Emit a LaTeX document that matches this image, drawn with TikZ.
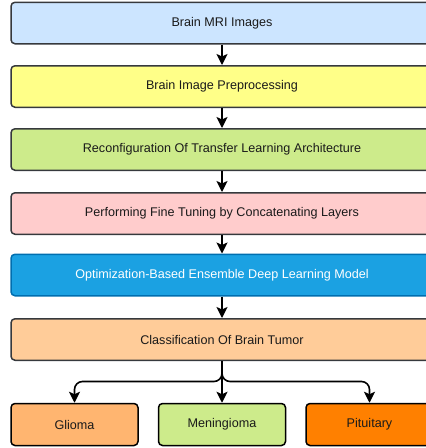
\documentclass[tikz,border=0pt]{standalone}
\usepackage{fontspec}
\setmainfont{Liberation Sans}
\usetikzlibrary{arrows.meta}
\definecolor{cblue}{HTML}{CCE5FF}
\definecolor{cyellow}{HTML}{FFFF88}
\definecolor{cgreen}{HTML}{CDEB8B}
\definecolor{cpink}{HTML}{FFCCCC}
\definecolor{cdblue}{HTML}{1BA1E2}
\definecolor{cdbluestroke}{HTML}{006EAF}
\definecolor{corange}{HTML}{FFCC99}
\definecolor{cglioma}{HTML}{FFB570}
\definecolor{cpit}{HTML}{FF8000}
\definecolor{cstroke}{HTML}{36393D}
\definecolor{ctext}{HTML}{1A1A1A}
\tikzset{
  wide/.style={draw=cstroke, line width=1.5pt, rounded corners=4pt, minimum width=422pt, minimum height=41.5pt, inner sep=0pt, text=ctext, font=\fontsize{12.6}{14}\selectfont},
  small/.style={draw=black, line width=1.5pt, rounded corners=4pt, minimum width=127pt, minimum height=42pt, inner sep=0pt, text=ctext, font=\fontsize{12.6}{14}\selectfont},
  arr/.style={line width=1.6pt, -{Stealth[length=11pt,width=11pt,inset=2.5pt]}},
}
\begin{document}
\begin{tikzpicture}[x=1pt,y=1pt]
\useasboundingbox (0,0) rectangle (426,-448);
\node[wide, fill=cblue] (b1) at (222,-23) {Brain MRI Images};
\node[wide, fill=cyellow] (b2) at (222,-86.5) {Brain Image Preprocessing};
\node[wide, fill=cgreen] (b3) at (222,-149.5) {Reconfiguration Of Transfer Learning Architecture};
\node[wide, fill=cpink] (b4) at (222,-213.5) {Performing Fine Tuning by Concatenating Layers};
\node[wide, fill=cdblue, draw=cdbluestroke, text=white] (b5) at (222,-275) {Optimization-Based Ensemble Deep Learning Model};
\node[wide, fill=corange] (b6) at (222,-339.5) {Classification Of Brain Tumor};
\node[small, fill=cglioma] (g) at (74.5,-424.5) {Glioma};
\node[small, fill=cgreen] (m) at (222,-424.5) {Meningioma};
\node[small, fill=cpit] (p) at (369.5,-424.5) {Pituitary};
\draw[arr] (b1) -- (b2);
\draw[arr] (b2) -- (b3);
\draw[arr] (b3) -- (b4);
\draw[arr] (b4) -- (b5);
\draw[arr] (b5) -- (b6);
\coordinate (j) at (222,-381.5);
\draw[arr, rounded corners=8pt] (b6.south) -- (j) -| (g.north);
\draw[arr, rounded corners=8pt] (b6.south) -- (j) -| (p.north);
\draw[arr] (b6.south) -- (m.north);
\end{tikzpicture}
\end{document}
